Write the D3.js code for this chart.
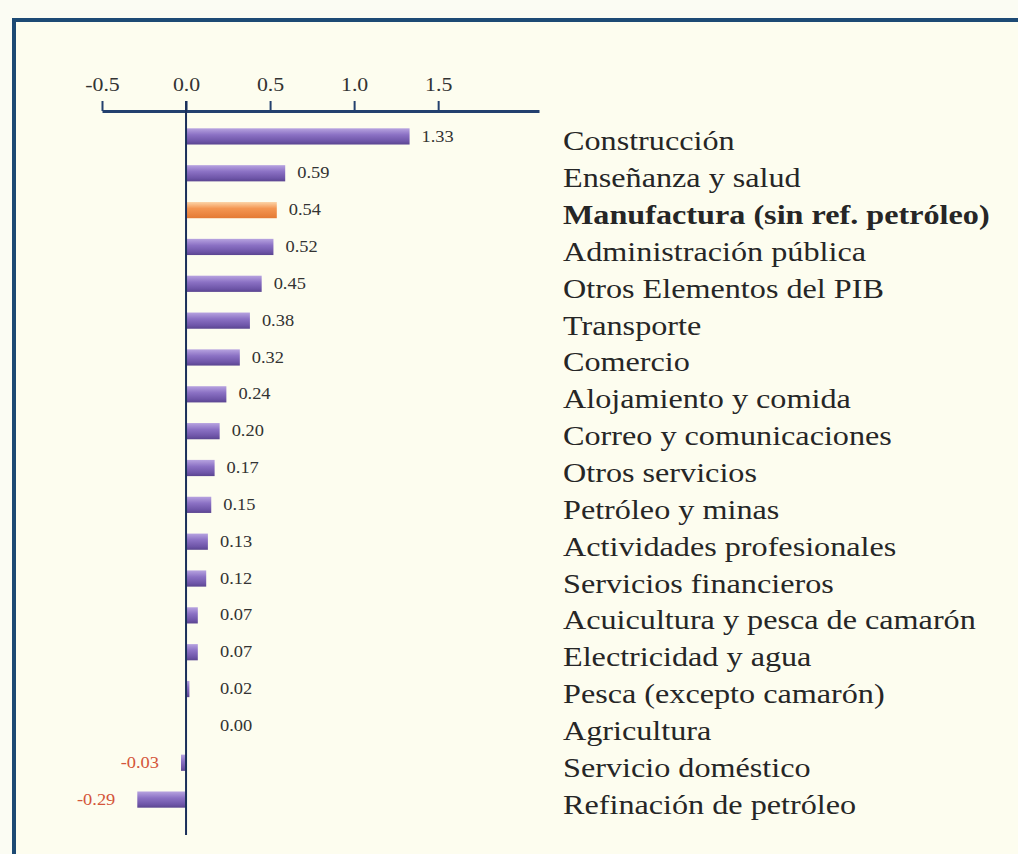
<!DOCTYPE html>
<meta charset="utf-8">
<style>
	body {
		margin: 0;
		background: #fbfcf3;
	}
	svg {
		display: block;
	}
</style>
<body>
<script src="https://cdn.jsdelivr.net/npm/d3@7"></script>
<script>

	// sectors, top to bottom
	var sectors = [
		"Construcción",
		"Enseñanza y salud",
		"Manufactura (sin ref. petróleo)",
		"Administración pública",
		"Otros Elementos del PIB",
		"Transporte",
		"Comercio",
		"Alojamiento y comida",
		"Correo y comunicaciones",
		"Otros servicios",
		"Petróleo y minas",
		"Actividades profesionales",
		"Servicios financieros",
		"Acuicultura y pesca de camarón",
		"Electricidad y agua",
		"Pesca (excepto camarón)",
		"Agricultura",
		"Servicio doméstico",
		"Refinación de petróleo"
	];

	// contribution values (percentage points)
	var values = [1.33, 0.59, 0.54, 0.52, 0.45, 0.38, 0.32, 0.24, 0.20, 0.17,
		0.15, 0.13, 0.12, 0.07, 0.07, 0.02, 0.00, -0.03, -0.29];

	var highlight = "Manufactura (sin ref. petróleo)";

	var tickVals = [-0.5, 0, 0.5, 1.0, 1.5];

	var width = 1018,
			height = 854,
			serif = "Liberation Serif, Times New Roman, serif",
			stretch = 1.15; // the scan is a bit wider than tall

	var svg = d3.select("body").append("svg")
			.attr("width", width)
			.attr("height", height);

	// gradients for the bars
	var defs = svg.append("defs");
	function grad(id, stops) {
		var g = defs.append("linearGradient")
				.attr("id", id)
				.attr("x1", 0).attr("y1", 0)
				.attr("x2", 0).attr("y2", 1);
		stops.forEach(function(s) {
			g.append("stop").attr("offset", s[0]).attr("stop-color", s[1]);
		});
	}
	grad("purple", [[0, "#b7a3e0"], [0.4, "#8b71c4"], [0.8, "#6e55a8"], [1, "#5a4590"]]);
	grad("orange", [[0, "#fcd4a8"], [0.4, "#f49652"], [1, "#e47a34"]]);

	// frame
	svg.append("rect")
			.attr("x", 14).attr("y", 20)
			.attr("width", width).attr("height", height)
			.attr("fill", "#fdfdef");
	svg.append("path")
			.attr("d", "M14," + height + "V20H" + width)
			.attr("fill", "none")
			.attr("stroke", "#1d4a74")
			.attr("stroke-width", 4);

	var data = sectors.map(function(s, i) { return {name: s, value: values[i]}; });

	var x = d3.scaleLinear()
			.domain([-0.5, 2.1])
			.range([102, 539]);

	var y = d3.scaleBand()
			.domain(sectors)
			.range([118, 818])
			.paddingInner(0.56)
			.paddingOuter(0.28);

	// axis on top
	var axis = svg.append("g")
			.attr("class", "axis")
			.attr("transform", "translate(0,111)")
			.call(d3.axisTop(x)
				.tickValues(tickVals)
				.tickFormat(function(d) { return d3.format(".1f")(d).replace("−", "-"); })
				.tickSizeInner(10)
				.tickSizeOuter(0)
				.tickPadding(10));
	axis.select(".domain")
			.attr("stroke", "#23406e")
			.attr("stroke-width", 3);
	axis.selectAll(".tick line")
			.attr("stroke", "#23406e")
			.attr("stroke-width", 2);
	axis.selectAll(".tick text")
			.attr("font-family", serif)
			.attr("font-size", 19)
			.attr("fill", "#333")
			.attr("transform", "scale(" + stretch + ",1)")
			.attr("x", 0);

	// bars
	svg.append("g").selectAll("rect")
			.data(data)
			.enter().append("rect")
			.attr("x", function(d) { return x(Math.min(0, d.value)); })
			.attr("y", function(d) { return y(d.name); })
			.attr("width", function(d) { return Math.abs(x(d.value) - x(0)); })
			.attr("height", y.bandwidth())
			.attr("fill", function(d) { return d.name === highlight ? "url(#orange)" : "url(#purple)"; });

	// zero line
	svg.append("line")
			.attr("x1", x(0)).attr("x2", x(0))
			.attr("y1", 101).attr("y2", 835)
			.attr("stroke", "#1a2f5a")
			.attr("stroke-width", 2);

	// value labels
	svg.append("g").selectAll("text")
			.data(data)
			.enter().append("text")
			.attr("font-family", serif)
			.attr("font-size", 16)
			.attr("text-anchor", function(d) { return d.value < 0 ? "end" : "start"; })
			.attr("dominant-baseline", "central")
			.attr("fill", function(d) { return d.value < 0 ? "#d4553a" : "#333"; })
			.attr("transform", function(d) {
				var px = d.value < 0 ? x(d.value) - 22 : Math.max(x(d.value) + 12, x(0) + 34);
				return "translate(" + px + "," + (y(d.name) + y.bandwidth() / 2) + ") scale(" + stretch + ",1)";
			})
			.text(function(d) { return d.value.toFixed(2); });

	// sector names
	svg.append("g").selectAll("text")
			.data(data)
			.enter().append("text")
			.attr("font-family", serif)
			.attr("font-size", 28)
			.attr("fill", "#262626")
			.attr("font-weight", function(d) { return d.name === highlight ? "bold" : null; })
			.attr("transform", function(d) {
				return "translate(563," + (y(d.name) + y.bandwidth() / 2 + 14) + ") scale(" + stretch + ",1)";
			})
			.text(function(d) { return d.name; });

</script>
</body>
</html>
